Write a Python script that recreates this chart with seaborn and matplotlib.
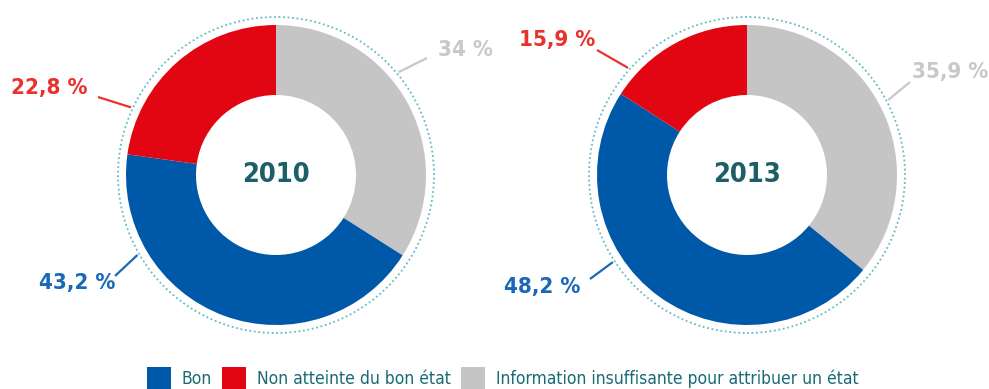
import matplotlib
matplotlib.use("Agg")
import matplotlib.pyplot as plt
from matplotlib.patches import Circle, Patch
import numpy as np
import seaborn as sns

# Data
years = ["2010", "2013"]
categories = ["Information insuffisante pour attribuer un état", "Bon", "Non atteinte du bon état"]
values_2010 = [34.0, 43.2, 22.8]
values_2013 = [35.9, 48.2, 15.9]
label_texts_2010 = ["34 %", "43,2 %", "22,8 %"]
label_texts_2013 = ["35,9 %", "48,2 %", "15,9 %"]
legend_order = ["Bon", "Non atteinte du bon état", "Information insuffisante pour attribuer un état"]

sns.set_theme(style="white")
plt.rcParams["font.family"] = ["DejaVu Sans"]
plt.rcParams["font.stretch"] = "condensed"

wedge_colors = {"Bon": "#0059a8",
                "Non atteinte du bon état": "#e20613",
                "Information insuffisante pour attribuer un état": "#c5c5c5"}
label_colors = {"Bon": "#1a68b8",
                "Non atteinte du bon état": "#e8322c",
                "Information insuffisante pour attribuer un état": "#c8c8c8"}
teal = "#1d5f66"

W, H = 989, 389
fig = plt.figure(figsize=(W / 100, H / 100), dpi=100)
ax = fig.add_axes([0, 0, 1, 1])

# layout: donut centres (pixels, y measured from top), radii, label placement
centers = [(276, 175), (747, 175)]
r_out, ring_w, r_dot = 150, 70, 158
# per category: (angle of leader start on ring [deg], text x, text y)
placements = [
    {"Information insuffisante pour attribuer un état": (40, 465, 50),
     "Non atteinte du bon état": (155, 49, 88),
     "Bon": (210, 77, 283)},
    {"Information insuffisante pour attribuer un état": (28, 950, 72),
     "Non atteinte du bon état": (138, 557, 40),
     "Bon": (213, 542, 287)},
]
leader_ends = [
    {"Information insuffisante pour attribuer un état": (427, 58),
     "Non atteinte du bon état": (98, 97),
     "Bon": (115, 276)},
    {"Information insuffisante pour attribuer un état": (910, 82),
     "Non atteinte du bon état": (597, 50),
     "Bon": (590, 279)},
]

all_values = [values_2010, values_2013]
all_labels = [label_texts_2010, label_texts_2013]

for i, year in enumerate(years):
    cx, cy = centers[i]
    cyy = H - cy
    vals = all_values[i]
    ax.pie(vals, colors=[wedge_colors[c] for c in categories],
           startangle=90, counterclock=False, center=(cx, cyy), radius=r_out,
           wedgeprops=dict(width=ring_w, edgecolor="none"))
    ax.add_patch(Circle((cx, cyy), r_dot, fill=False, edgecolor="#62bcc2",
                        linestyle=(0, (1, 1.5)), linewidth=1.3))
    ax.text(cx, cyy, year, ha="center", va="center", fontsize=19.5,
            fontweight="bold", color=teal)
    for c, txt in zip(categories, all_labels[i]):
        ang, tx, ty = placements[i][c]
        a = np.deg2rad(ang)
        sx, sy = cx + (r_dot + 2) * np.cos(a), cyy + (r_dot + 2) * np.sin(a)
        ex, ey = leader_ends[i][c]
        ax.plot([sx, ex], [sy, H - ey], color=label_colors[c], lw=1.6,
                solid_capstyle="butt")
        ax.text(tx, H - ty, txt, ha="center", va="center", fontsize=16,
                fontweight="bold", color=label_colors[c])

ax.set_xlim(0, W)
ax.set_ylim(0, H)
ax.set_aspect("equal")
ax.axis("off")

handles = [Patch(facecolor=wedge_colors[c], edgecolor="none") for c in legend_order]
leg = fig.legend(handles, legend_order, loc="center", bbox_to_anchor=(0.508, 1 - 378 / H),
                 ncol=3, frameon=False, fontsize=12.5, handlelength=1.4, handleheight=1.5,
                 handletextpad=0.6, columnspacing=0.6, borderaxespad=0)
for t in leg.get_texts():
    t.set_color("#1b6b75")

fig.savefig("out.png", dpi=100)
